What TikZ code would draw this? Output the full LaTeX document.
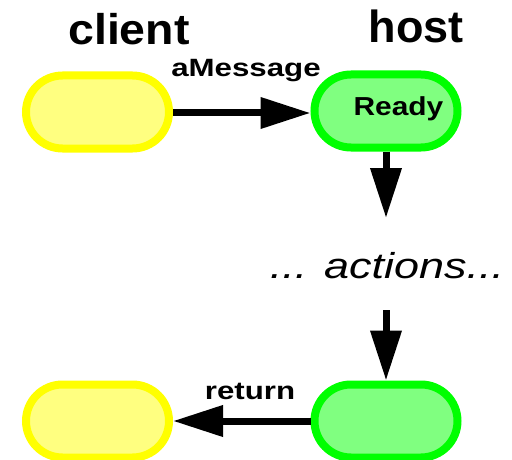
\documentclass[tikz,border=0pt]{standalone}
\usepackage{fontspec}
\setmainfont{Liberation Sans}
\usetikzlibrary{shapes.misc,arrows.meta}
\definecolor{ystroke}{HTML}{FFFF00}
\definecolor{yfill}{HTML}{FFFF80}
\definecolor{gstroke}{HTML}{00FF00}
\definecolor{gfill}{HTML}{80FF80}
\tikzset{
  pill/.style={rounded rectangle, minimum width=143pt, minimum height=73pt, line width=8pt, inner sep=0pt},
  clientpill/.style={pill, draw=ystroke, fill=yfill},
  hostpill/.style={pill, draw=gstroke, fill=gfill},
  lbl/.style={anchor=base, inner sep=0pt, outer sep=0pt},
  conn/.style={line width=7pt, -{Triangle[length=50pt,width=30pt]}}
}
\begin{document}
\begin{tikzpicture}[x=1pt,y=-1pt]
\useasboundingbox (0,0) rectangle (512,460);
\node[clientpill] (c1) at (97.5,112) {};
\node[hostpill] (h1) at (386,111) {};
\node[clientpill] (c2) at (97.5,421) {};
\node[hostpill] (h2) at (386,421) {};
\node[lbl] (tclient) at (129,45) {\scalebox{1.08}[1]{\fontsize{43}{43}\selectfont\bfseries client}};
\node[lbl] (thost) at (416,43) {\fontsize{45}{45}\selectfont\bfseries host};
\node[lbl] (ready) at (398.5,115) {\scalebox{1.15}[1]{\fontsize{26}{26}\selectfont\bfseries Ready}};
\node[lbl] (actions) at (387,278) {\scalebox{1.25}[1]{\fontsize{36}{36}\selectfont\itshape ... actions...}};
\coordinate (a1) at (386,218);
\coordinate (a2) at (386,310);
\draw[conn] (c1.east |- 0,113) -- (h1.west |- 0,113);
\node[lbl] (amsg) at (246,77) {\scalebox{1.25}[1]{\fontsize{25}{25}\selectfont\bfseries aMessage}};
\draw[conn] (h1.south) -- (a1);
\draw[conn] (a2) -- (h2.north);
\draw[conn] (h2.west) -- (c2.east);
\node[lbl] (tret) at (250,399) {\scalebox{1.25}[1]{\fontsize{25}{25}\selectfont\bfseries return}};
\end{tikzpicture}
\end{document}
